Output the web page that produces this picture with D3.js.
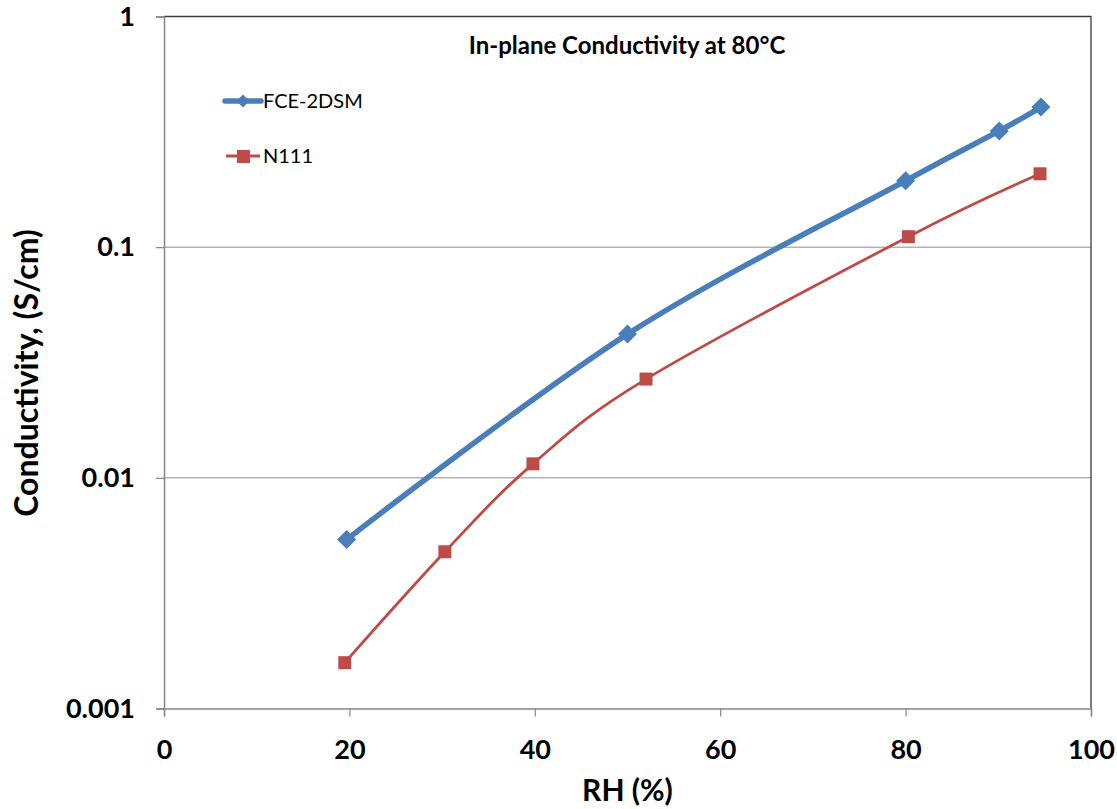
<!DOCTYPE html>
<html>
<head>
<meta charset="utf-8">
<script src="https://cdn.jsdelivr.net/npm/d3@7"></script>
<style>
  body { margin: 0; background: #fff; }
  text { font-family: Lato, "Open Sans", sans-serif; }
</style>
</head>
<body>
<div id="chart"></div>
<script>
// values
const fceRH = [19.7, 50.0, 80.0, 90.1, 94.6];
const fceCond = [0.0054, 0.042, 0.194, 0.319, 0.405];
const n111RH = [19.5, 30.3, 39.8, 52.0, 80.3, 94.5];
const n111Cond = [0.00158, 0.00478, 0.0115, 0.0268, 0.111, 0.208];
const xTicks = [0, 20, 40, 60, 80, 100];
const yTicks = [0.001, 0.01, 0.1, 1];
const yTickLabels = ["0.001", "0.01", "0.1", "1"];

const width = 1117, height = 809;
const margin = {left: 164, top: 16.5, right: 26, bottom: 100.5};

const svg = d3.select("#chart").append("svg")
    .attr("width", width)
    .attr("height", height);

const x = d3.scaleLinear().domain([0, 100]).range([margin.left, width - margin.right]);
const y = d3.scaleLog().domain([0.001, 1]).range([height - margin.bottom, margin.top]);

// gridlines
svg.append("g")
  .selectAll("line")
  .data([0.01, 0.1])
  .join("line")
    .attr("x1", x(0)).attr("x2", x(100))
    .attr("y1", d => y(d)).attr("y2", d => y(d))
    .attr("stroke", "#8c8c8c").attr("stroke-width", 1);

// plot area border (top and right)
svg.append("path")
  .attr("d", `M${x(0)},${y(1)}H${x(100)}V${y(0.001)}`)
  .attr("fill", "none").attr("stroke", "#3a3a3a").attr("stroke-width", 1.3);

// y axis
const yAxis = svg.append("g")
  .attr("transform", `translate(${x(0)},0)`)
  .call(d3.axisLeft(y).tickValues(yTicks).tickFormat((d, i) => yTickLabels[i]).tickSize(8).tickPadding(21));
yAxis.select(".domain").attr("stroke", "#868686").attr("stroke-width", 1.5);
yAxis.selectAll(".tick line").attr("stroke", "#868686").attr("stroke-width", 1.2);
yAxis.selectAll("text").attr("font-size", 27).attr("font-weight", "bold").attr("fill", "#000")
  .attr("font-family", "Lato, sans-serif");

// x axis
const xAxis = svg.append("g")
  .attr("transform", `translate(0,${y(0.001)})`)
  .call(d3.axisBottom(x).tickValues(xTicks).tickSize(8).tickPadding(23));
xAxis.select(".domain").attr("stroke", "#868686").attr("stroke-width", 1.5);
xAxis.selectAll(".tick line").attr("stroke", "#868686").attr("stroke-width", 1.2);
xAxis.selectAll("text").attr("font-size", 27).attr("font-weight", "bold").attr("fill", "#000")
  .attr("font-family", "Lato, sans-serif");

// axis titles
svg.append("text")
  .attr("x", (x(0) + x(100)) / 2).attr("y", 801)
  .attr("text-anchor", "middle")
  .attr("font-size", 30).attr("font-weight", "bold")
  .text("RH (%)");

svg.append("text")
  .attr("transform", `translate(38,373) rotate(-90)`)
  .attr("text-anchor", "middle")
  .attr("font-size", 32).attr("font-weight", "bold")
  .text("Conductivity, (S/cm)");

// chart title
svg.append("text")
  .attr("x", 627).attr("y", 54)
  .attr("text-anchor", "middle")
  .attr("font-size", 24).attr("font-weight", "bold")
  .text("In-plane Conductivity at 80°C");

const line = d3.line().x(d => x(d[0])).y(d => y(d[1])).curve(d3.curveCardinal.tension(0));

const fce = fceRH.map((v, i) => [v, fceCond[i]]);
const n111 = n111RH.map((v, i) => [v, n111Cond[i]]);

const blue = "#4a7ebb", red = "#be4b48";

svg.append("path").datum(n111).attr("d", line)
  .attr("fill", "none").attr("stroke", red).attr("stroke-width", 2.8);
svg.append("g").selectAll("rect").data(n111).join("rect")
  .attr("x", d => x(d[0]) - 6.5).attr("y", d => y(d[1]) - 6.5)
  .attr("width", 13).attr("height", 13).attr("fill", red);

svg.append("path").datum(fce).attr("d", line)
  .attr("fill", "none").attr("stroke", blue).attr("stroke-width", 5.5).attr("stroke-linecap", "round");
const diamond = d3.symbol().type(d3.symbolDiamond2).size(230);
svg.append("g").selectAll("path").data(fce).join("path")
  .attr("transform", d => `translate(${x(d[0])},${y(d[1])})`)
  .attr("d", diamond).attr("fill", blue);

// legend
const legend = svg.append("g");
legend.append("line").attr("x1", 225).attr("x2", 261).attr("y1", 101).attr("y2", 101)
  .attr("stroke", blue).attr("stroke-width", 5.5).attr("stroke-linecap", "round");
legend.append("path").attr("transform", "translate(243,101)")
  .attr("d", d3.symbol().type(d3.symbolDiamond2).size(110)).attr("fill", blue);
legend.append("text").attr("x", 263).attr("y", 108).attr("font-size", 20).text("FCE-2DSM");

legend.append("line").attr("x1", 226).attr("x2", 260).attr("y1", 156).attr("y2", 156)
  .attr("stroke", red).attr("stroke-width", 2.8);
legend.append("rect").attr("x", 237).attr("y", 150).attr("width", 13).attr("height", 13).attr("fill", red);
legend.append("text").attr("x", 263).attr("y", 163).attr("font-size", 20).text("N111");
</script>
</body>
</html>
